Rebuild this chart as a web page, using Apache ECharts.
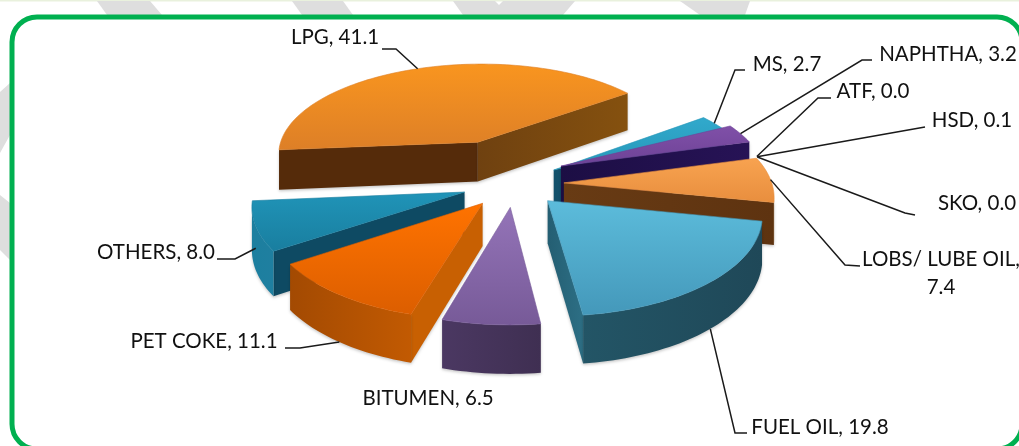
<!DOCTYPE html>
<html><head><meta charset="utf-8">
<style>html,body{margin:0;padding:0;background:#fff}#c{width:1019px;height:446px}</style>
<script src="https://cdn.jsdelivr.net/npm/echarts@6/dist/echarts.min.js"></script>
</head><body><div id="c"></div>
<script>
// DATA
const categories = ['LPG','MS','NAPHTHA','ATF','HSD','SKO','LOBS/ LUBE OIL','FUEL OIL','BITUMEN','PET COKE','OTHERS'];
const values = [41.1,2.7,3.2,0.0,0.1,0.0,7.4,19.8,6.5,11.1,8.0];

// STYLE: projection and explosion of the slices
const view = {cx:513, cy:172, rx:205, ry:94.1, persp:0.12, depth:41, start:265};
const explosion = {
  'LPG':[0.375,331.6],'MS':[0.2,84],'NAPHTHA':[0.244,75],'ATF':[0.27,112],'HSD':[0.27,112],'SKO':[0.27,112],
  'LOBS/ LUBE OIL':[0.27,115],'FUEL OIL':[0.336,151],'BITUMEN':[0.36,182],'PET COKE':[0.35,204],'OTHERS':[0.31,228]};
const drawOrder = ['LPG','MS','NAPHTHA','ATF','HSD','SKO','LOBS/ LUBE OIL','OTHERS','PET COKE','BITUMEN','FUEL OIL'];
const skin = {
  'LPG':{top:['#f9951f','#dd7f27'],a:'#552b0a',b:['#6f4110','#85510f'],arc:['#7a4a10','#7a4a10']},
  'MS':{top:['#31a9cc','#2797b8'],a:'#15566e',b:['#12506a','#15596f'],arc:['#1c7a99','#1c7a99']},
  'NAPHTHA':{top:['#8050a8','#6d4296'],a:'#20104a',b:['#1c0e44','#271356'],arc:['#47286b','#47286b']},
  'LOBS/ LUBE OIL':{top:['#f8a350','#e88e3e'],a:'#6a3d14',b:['#683b14','#5e3310'],arc:['#8e5a1e','#a56a24']},
  'FUEL OIL':{top:['#5cbcdb','#4498ba'],a:'#2a6478',b:['#245e72','#2d6f85'],arc:['#235566','#1f4858']},
  'BITUMEN':{top:['#9474b8','#775a98'],a:'#4a3660',b:['#4a3660','#4a3660'],arc:['#4b3862','#3f2f52']},
  'PET COKE':{top:['#ff7300','#dc5e00'],a:'#c86002',b:['#c86002','#b45402'],arc:['#a34a02','#c25a02']},
  'OTHERS':{top:['#2094b8','#197e9f'],a:'#0e4a63',b:['#0e4a63','#0e4a63'],arc:['#1c7f9f','#1f7fa0']}
};
// label: text centre, elbow polyline start, anchor depth on the wall, wrapped value
const labelFont = '20.5px Lato, sans-serif';
const labels = {
  'LPG':{at:[335,37],path:[[382,49],[396,49]],wall:0},
  'MS':{at:[787,64],path:[[745,70],[735,70]],wall:0},
  'NAPHTHA':{at:[948,54],path:[[872,60],[862,60]],wall:0},
  'ATF':{at:[873,91],path:[[831,98],[818,98]],wall:0},
  'HSD':{at:[972,120],path:[[925,127]],wall:0},
  'SKO':{at:[977,203],path:[[915,215],[905,213]],wall:0},
  'LOBS/ LUBE OIL':{at:[941,273],path:[[860,266],[845,265]],wall:0,wrap:true},
  'FUEL OIL':{at:[820,427],path:[[747,433],[735,433]],wall:1},
  'BITUMEN':{at:[428,398]},
  'PET COKE':{at:[204,341],path:[[285,348],[300,348]],wall:1},
  'OTHERS':{at:[156,252],path:[[217,259],[235,259]],wall:0.5}
};
const total = values.reduce((a,b)=>a+b,0);

function project(wx,wv,z){
  const f=1/(1-view.persp*wv);
  return [view.cx+view.rx*wx*f, view.cy+view.ry*wv*f+view.depth*z*f];
}
function sliceGeo(i){
  let before=0; for(let k=0;k<i;k++) before+=values[k];
  const a0=view.start+before/total*360, a1=a0+values[i]/total*360;
  const ex=explosion[categories[i]], b=ex[1]*Math.PI/180;
  const ox=ex[0]*Math.sin(b), ov=-ex[0]*Math.cos(b);
  const pt=(deg,z)=>{const t=deg*Math.PI/180;return project(ox+Math.sin(t),ov-Math.cos(t),z);};
  return {a0,a1,ox,ov,pt};
}
function vgrad(c){return {type:'linear',x:0,y:0,x2:0,y2:1,colorStops:[{offset:0,color:c[0]},{offset:1,color:c[1]}]};}
function hgrad(c){return {type:'linear',x:0,y:0,x2:1,y2:0,colorStops:[{offset:0,color:c[0]},{offset:1,color:c[1]}]};}

function renderItem(params,api){
  const i=api.value(0), name=categories[i], g=sliceGeo(i), kids=[], rank=drawOrder.indexOf(name)*10+10, s=skin[name];
  if(values[i]>0.5 && s){
    const n=Math.max(6,Math.ceil((g.a1-g.a0)/1.5));
    const topArc=[],botArc=[];
    for(let k=0;k<=n;k++){const d=g.a0+(g.a1-g.a0)*k/n;topArc.push(g.pt(d,0));botArc.push(g.pt(d,1));}
    const A0=project(g.ox,g.ov,0),A1=project(g.ox,g.ov,1);
    const wall=(pts,fill,z)=>kids.push({type:'polygon',z2:rank+z,shape:{points:pts},
      style:{fill,stroke:'rgba(0,0,0,0)',shadowBlur:3,shadowColor:'rgba(0,0,0,0.22)',shadowOffsetY:1.5}});
    if(topArc[0][0]<A0[0]) wall([A0,topArc[0],botArc[0],A1],s.a,1);
    const last=n;
    if(A0[0]<topArc[last][0]) wall([topArc[last],A0,A1,botArc[last]],hgrad(s.b),1);
    // front-facing run of the outer rim
    let from=-1,to=-1;
    for(let k=0;k<n;k++){ if(topArc[k+1][0]<topArc[k][0]){ if(from<0)from=k; to=k+1; } }
    if(from>=0){
      const pts=topArc.slice(from,to+1).concat(botArc.slice(from,to+1).reverse());
      wall(pts,hgrad(s.arc),2);
    }
    kids.push({type:'polygon',z2:rank+3,shape:{points:[A0].concat(topArc)},
      style:{fill:vgrad(s.top),stroke:s.top[1],lineWidth:0.6}});
  }
  const lab=labels[name];
  if(lab.path){
    const mid=(g.a0+g.a1)/2, end=g.pt(mid,lab.wall);
    kids.push({type:'polyline',z2:200,shape:{points:lab.path.concat([end])},
      style:{fill:null,stroke:'#1a1a1a',lineWidth:1.5}});
  }
  const val=values[i].toFixed(1);
  kids.push({type:'text',z2:210,style:{x:lab.at[0],y:lab.at[1],
    text:lab.wrap?name+',\n'+val:name+', '+val,
    font:labelFont,fill:'#111',align:'center',verticalAlign:'middle',lineHeight:28}});
  return {type:'group',children:kids};
}

const stripes=[
 [[97,1],[150,1],[162,15],[107,15]],[[292,1],[343,1],[353,15],[302,15]],
 [[453,1],[495,1],[499,5],[503,1],[575,1],[563,15],[463,15]],[[680,1],[750,1],[745,15],[700,15]],
 [[0,92],[10,83],[10,135],[0,153]],[[0,195],[10,203],[10,260],[0,250]]
];
const chart=echarts.init(document.getElementById('c'),null,{renderer:'canvas',width:1019,height:446});
chart.setOption({
  animation:false,
  backgroundColor:'#fff',
  graphic:{elements:[
    {type:'rect',z:-3,shape:{x:0,y:0,width:1019,height:1.5},style:{fill:'#e9f1dd'}},
    ...stripes.map(p=>({type:'polygon',z:-3,shape:{points:p},style:{fill:'#dedede'}})),
    {type:'rect',z:-2,shape:{x:12,y:17,width:1010,height:432,r:25},style:{fill:'#fff',stroke:'#00b050',lineWidth:5}}
  ]},
  series:[{type:'custom',coordinateSystem:'none',renderItem,clip:false,silent:true,
    data:categories.map((c,i)=>[i,values[i]])}]
});
</script></body></html>
